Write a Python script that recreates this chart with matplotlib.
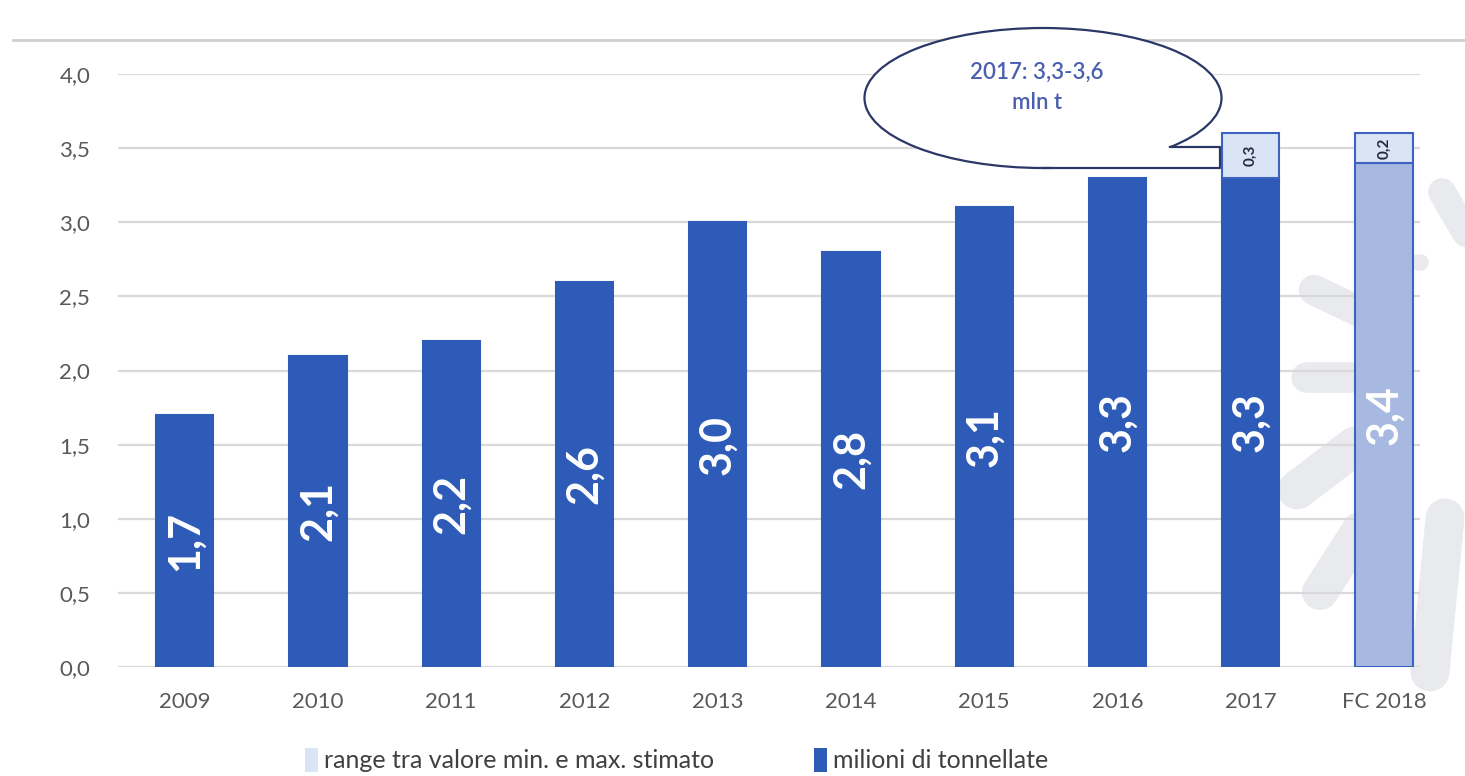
import matplotlib.pyplot as plt
import numpy as np
from matplotlib.patches import Ellipse, Polygon, Patch
from matplotlib.lines import Line2D

plt.rcParams['font.family'] = ['Lato', 'DejaVu Sans']

# dati
anni = ['2009', '2010', '2011', '2012', '2013', '2014', '2015', '2016', '2017', 'FC 2018']
milioni = [1.7, 2.1, 2.2, 2.6, 3.0, 2.8, 3.1, 3.3, 3.3, 3.4]
rng = [0, 0, 0, 0, 0, 0, 0, 0, 0.3, 0.2]
etichette = ['1,7', '2,1', '2,2', '2,6', '3,0', '2,8', '3,1', '3,3', '3,3', '3,4']
etichette_rng = ['', '', '', '', '', '', '', '', '0,3', '0,2']
yticks = [0, 0.5, 1.0, 1.5, 2.0, 2.5, 3.0, 3.5, 4.0]

blu = '#2F5BB8'
blu_chiaro = '#A7B9E1'
range_col = '#D9E5F5'
bordo = '#3C63C2'

W, H = 1465, 776
fig = plt.figure(figsize=(W / 100, H / 100), dpi=100)


def fp(px, py):
    return (px / W, 1 - py / H)


# logo sbiadito sullo sfondo
grigio = '#e8eaee'
tratti = [([1442, 1470], [192, 240], 20),
          ([1314, 1360], [290, 312], 22),
          ([1306, 1355], [377, 377], 22),
          ([1297, 1355], [490, 446], 28),
          ([1320, 1360], [592, 530], 26),
          ([1445, 1430], [518, 672], 28),
          ([1418, 1420], [262, 262], 12)]
for px, py, lw in tratti:
    pts = [fp(a, b) for a, b in zip(px, py)]
    xs, ys = zip(*pts)
    fig.add_artist(Line2D(xs, ys, transform=fig.transFigure, color=grigio, linewidth=lw,
                          solid_capstyle='round', zorder=0))

ax = fig.add_axes([118 / W, 1 - 667 / H, (1420 - 118) / W, (667 - 74) / H])
ax.patch.set_alpha(0)
ax.set_zorder(1)

x = np.arange(len(anni))
colori = [blu] * 9 + [blu_chiaro]
edge = [blu] * 9 + [bordo]
bars = ax.bar(x, milioni, width=0.43, color=colori, edgecolor=edge, linewidth=1.5, zorder=3)
rbars = ax.bar(x, rng, bottom=milioni, width=0.43, color=range_col, edgecolor=bordo,
               linewidth=1.5, zorder=3)
for r, v in zip(rbars, rng):
    if v == 0:
        r.set_visible(False)

for i, (v, t) in enumerate(zip(milioni, etichette)):
    ax.text(i, v / 2, t, rotation=90, ha='center', va='center', color='white',
            fontsize=31, fontweight='bold', zorder=4)
for i, (v, r, t) in enumerate(zip(milioni, rng, etichette_rng)):
    if t:
        ax.text(i, v + r / 2, t, rotation=90, ha='center', va='center', color='#1f2a44',
                fontsize=11, fontweight='bold', zorder=4)

ax.set_xlim(-0.5, 9.27)
ax.set_ylim(0, 4.0)
ax.set_yticks(yticks)
ax.set_yticklabels([f'{v:.1f}'.replace('.', ',') for v in yticks])
ax.set_xticks(x)
ax.set_xticklabels(anni)
ax.tick_params(axis='y', length=0, pad=20, labelsize=16, labelcolor='#595959')
ax.tick_params(axis='x', length=0, pad=18, labelsize=16, labelcolor='#595959')
ax.grid(axis='y', color='#d9d9d9', linewidth=1.6, zorder=1)
for s in ax.spines.values():
    s.set_visible(False)

# linea in alto
fig.add_artist(Line2D([13 / W, 1], [1 - 40 / H] * 2, color='#cfcfcf', linewidth=2))

# fumetto
ell = Ellipse(fp(1043, 98), 357 / W, 140 / H, transform=fig.transFigure,
              facecolor='white', edgecolor='#2b3766', linewidth=1.6, zorder=5)
fig.add_artist(ell)
coda = Polygon([fp(1043, 168), fp(1170, 146), fp(1220, 146), fp(1220, 168)],
               closed=True, transform=fig.transFigure, facecolor='white', edgecolor='none', zorder=6)
fig.add_artist(coda)
xs, ys = zip(*[fp(1170, 147), fp(1220, 147), fp(1220, 168), fp(1043, 168)])
fig.add_artist(Line2D(xs, ys, transform=fig.transFigure, color='#2b3766', linewidth=1.6, zorder=7))
fig.text(1037 / W, 1 - 87 / H, '2017: 3,3-3,6\nmln t', ha='center', va='center',
         color='#4a5fae', fontsize=16, fontweight='semibold', linespacing=1.55, zorder=8)

# legenda
handles = [Patch(facecolor=range_col, edgecolor='none', label='range tra valore min. e max. stimato'),
           Patch(facecolor=blu, edgecolor='none', label='milioni di tonnellate')]
fig.legend(handles=handles, loc='center', bbox_to_anchor=(0.462, 1 - 760 / H), ncol=2,
           frameon=False, fontsize=18, handlelength=0.5, handleheight=1.1, handletextpad=0.25,
           columnspacing=4, labelcolor='#404040')

fig.savefig('out.png', dpi=100)
